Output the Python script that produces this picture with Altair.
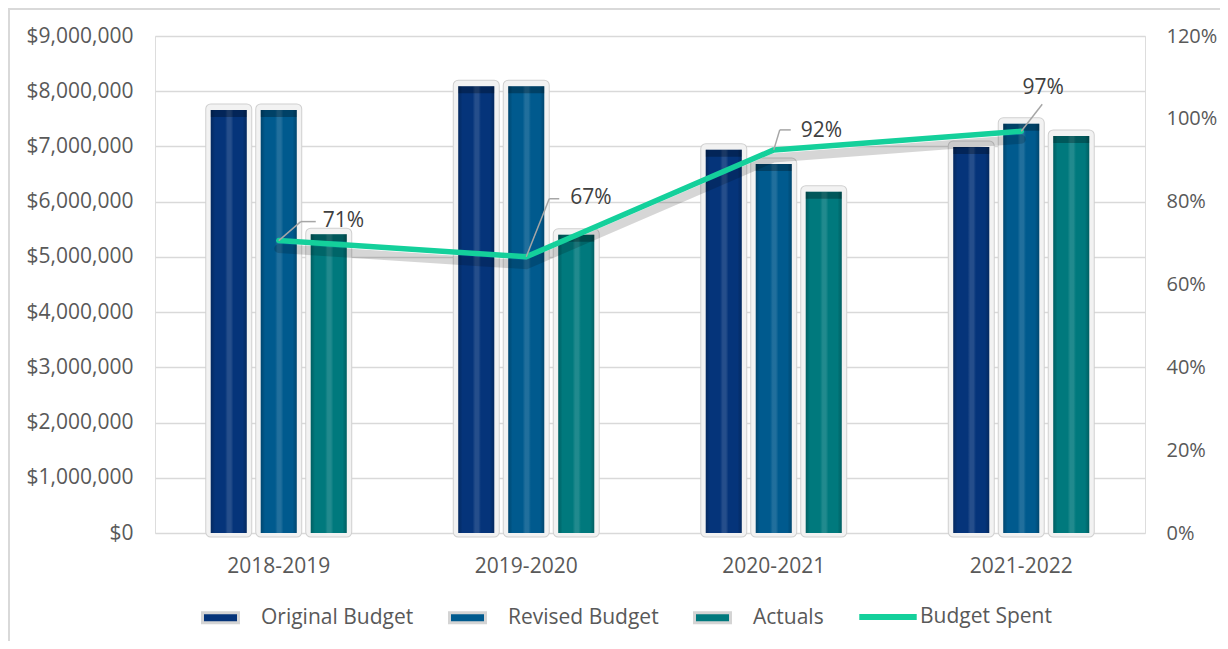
import altair as alt
import pandas as pd

categories = ["2018-2019", "2019-2020", "2020-2021", "2021-2022"]
series = ["Original Budget", "Revised Budget", "Actuals"]
original = [7660000, 8090000, 6940000, 6990000]
revised = [7660000, 8090000, 6680000, 7410000]
actuals = [5410000, 5400000, 6180000, 7190000]
spent = [0.706, 0.667, 0.925, 0.970]
spent_labels = ["71%", "67%", "92%", "97%"]
line_name = "Budget Spent"

bar_colors = ["#05347a", "#005a8e", "#00797d"]
line_color = "#14d09b"
FONT = "Open Sans"
FS = 21
TXT = "#595959"

rows = []
for i, c in enumerate(categories):
    for s, vals in zip(series, [original, revised, actuals]):
        rows.append({"cat": c, "series": s, "value": vals[i]})
bars_df = pd.DataFrame(rows)
line_df = pd.DataFrame({"cat": categories, "pct": spent, "label": spent_labels,
                        "series": [line_name] * 4})

xscale = alt.Scale(domain=categories, paddingInner=0.394, paddingOuter=0.197)
xoff = alt.XOffset("series:N", scale=alt.Scale(domain=series, paddingInner=0.28, paddingOuter=0.14))
yL = alt.Scale(domain=[0, 9000000])
yR = alt.Scale(domain=[0, 1.2])

base_b = alt.Chart(bars_df)

x_enc = alt.X("cat:N", scale=xscale, title=None,
              axis=alt.Axis(labelFont=FONT, labelFontSize=FS, labelColor=TXT,
                            labelPadding=22, ticks=False, domain=False, labelAngle=0))
yl_enc = alt.Y("value:Q", scale=yL, title=None,
               axis=alt.Axis(format="$,.0f", values=list(range(0, 9000001, 1000000)),
                             labelFont=FONT, labelFontSize=FS, labelColor=TXT,
                             labelPadding=22, ticks=False, domain=False,
                             grid=True, gridColor="#d9d9d9", gridWidth=1.3))

frame_out = base_b.mark_bar(fill="#d0d0d0", stroke="#d0d0d0", strokeWidth=11,
                            strokeJoin="round", yOffset=-1, y2Offset=-6).encode(
    x=x_enc, xOffset=xoff, y=yl_enc)
frame_in = base_b.mark_bar(fill="#f2f2f2", stroke="#f2f2f2", strokeWidth=9,
                           strokeJoin="round", yOffset=-1, y2Offset=-5).encode(
    x=x_enc, xOffset=xoff, y=yl_enc)

inner = base_b.mark_bar().encode(
    x=x_enc, xOffset=xoff, y=yl_enc,
    color=alt.Color("series:N", scale=alt.Scale(domain=series, range=bar_colors),
                    legend=alt.Legend(title=None, orient="none", legendX=46, legendY=562,
                                      direction="horizontal", columns=3,
                                      symbolType="M-1,-0.28H1V0.28H-1Z", symbolSize=1296,
                                      symbolStrokeColor="#d4d4d4", symbolStrokeWidth=3,
                                      symbolOpacity=1,
                                      labelFont=FONT, labelFontSize=FS, labelColor=TXT,
                                      labelOffset=21, columnPadding=29, padding=0)),
)

stripe = base_b.mark_bar(color=alt.Gradient(
    gradient="linear", x1=0, x2=1, y1=0, y2=0,
    stops=[alt.GradientStop(offset=0, color="rgba(0,0,0,0.22)"),
           alt.GradientStop(offset=0.12, color="rgba(0,0,0,0)"),
           alt.GradientStop(offset=0.40, color="rgba(255,255,255,0)"),
           alt.GradientStop(offset=0.47, color="rgba(255,255,255,0.13)"),
           alt.GradientStop(offset=0.56, color="rgba(255,255,255,0.13)"),
           alt.GradientStop(offset=0.63, color="rgba(255,255,255,0)"),
           alt.GradientStop(offset=0.88, color="rgba(0,0,0,0)"),
           alt.GradientStop(offset=1, color="rgba(0,0,0,0.22)")])).encode(
    x=x_enc, xOffset=xoff, y=yl_enc)

cap = base_b.mark_bar(color="rgba(0,0,0,0.28)", yOffset=0, y2Offset=7).encode(
    x=x_enc, xOffset=xoff, y=yl_enc, y2=alt.Y2("value:Q"))

bars = alt.layer(frame_out, frame_in, inner, stripe, cap)

base_l = alt.Chart(line_df)
yr_enc = alt.Y("pct:Q", scale=yR, title=None,
               axis=alt.Axis(orient="right", format=".0%", values=[0, 0.2, 0.4, 0.6, 0.8, 1.0, 1.2],
                             labelFont=FONT, labelFontSize=20, labelColor=TXT,
                             labelPadding=21, ticks=False, domain=False, grid=False))
xl_enc = alt.X("cat:N", scale=xscale, title=None)

shadow = base_l.mark_line(color="#000000", opacity=0.16, strokeWidth=9,
                          yOffset=8, strokeCap="round").encode(x=xl_enc, y=yr_enc)

line = base_l.mark_line(strokeWidth=5.5, strokeCap="round", strokeJoin="round").encode(
    x=xl_enc, y=yr_enc,
    stroke=alt.Stroke("series:N", scale=alt.Scale(domain=[line_name], range=[line_color]),
                      legend=alt.Legend(title=None, orient="none", legendX=701, legendY=549,
                                        symbolType="stroke", symbolSize=3300,
                                        symbolStrokeWidth=6,
                                        labelFont=FONT, labelFontSize=FS, labelColor=TXT,
                                        labelOffset=0, padding=0)),
)

# leader lines and labels: (label index, segments, text dx, dy, align)
callouts = [
    (0, [(0, 0, 22, -19), (22, -19, 37, -19)], 44, -20, "left"),
    (1, [(0, 0, 23, -58), (23, -58, 33, -58)], 44, -59, "left"),
    (2, [(0, 0, 6, -20), (6, -20, 17, -20)], 27, -19, "left"),
    (3, [(0, 0, 21, -27)], 22, -43, "center"),
]
extra = []
for idx, segs, tdx, tdy, al in callouts:
    sub = base_l.transform_filter(alt.datum.label == spent_labels[idx])
    for (ax, ay, bx, by) in segs:
        extra.append(sub.mark_rule(color="#a6a6a6", strokeWidth=1.5,
                                   xOffset=ax, yOffset=ay, x2Offset=bx, y2Offset=by).encode(
            x=xl_enc, x2="cat:N", y=yr_enc, y2="pct:Q"))
    extra.append(sub.mark_text(dx=tdx, dy=tdy, align=al, baseline="middle",
                               font=FONT, fontSize=FS, color="#404040").encode(
        x=xl_enc, y=yr_enc, text="label:N"))

lines = alt.layer(shadow, line, *extra)

border_top = alt.Chart(line_df).mark_rule(color="#d9d9d9", strokeWidth=1.5).encode(
    x=alt.value(-147), x2=alt.value(1070), y=alt.value(-27))
border_left = alt.Chart(line_df).mark_rule(color="#d9d9d9", strokeWidth=1.5).encode(
    x=alt.value(-146), y=alt.value(-28), y2=alt.value(620))

chart = alt.layer(bars, lines, border_top, border_left).resolve_scale(
    y="independent"
).properties(
    width=990, height=497,
    padding={"left": 147, "top": 28, "right": 75, "bottom": 108},
    autosize=alt.AutoSizeParams(type="none"),
).configure_view(strokeWidth=0).configure(background="white")

chart.save("out.html", embed_options={"renderer": "svg", "actions": False})
